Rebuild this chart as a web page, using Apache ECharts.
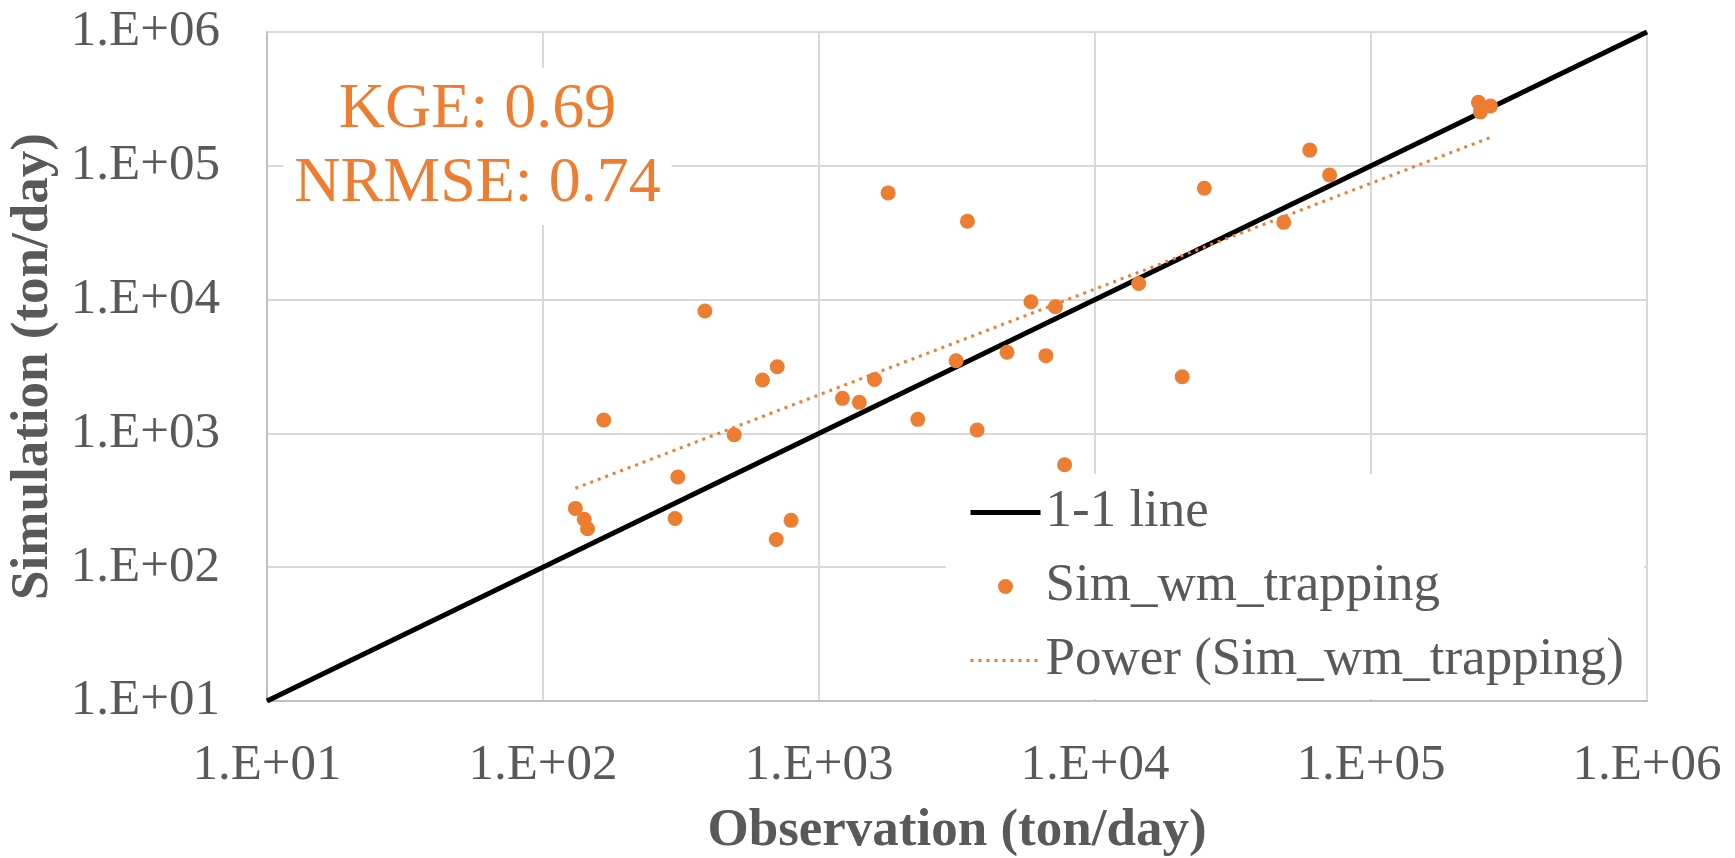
<!DOCTYPE html>
<html>
<head>
<meta charset="utf-8">
<script src="https://cdn.jsdelivr.net/npm/echarts@6/dist/echarts.min.js"></script>
<style>
  html, body { margin: 0; padding: 0; background: #ffffff; }
  #chart { width: 1735px; height: 858px; }
</style>
</head>
<body>
<div id="chart"></div>
<script>
// Observed vs simulated sediment load (ton/day)
const observed = [
  131, 141, 145, 166, 301, 308, 386, 493, 624, 706, 700, 792,
  1216, 1400, 1589, 1780, 2280, 3140, 3450, 3740, 4800, 5860, 6640, 7190,
  7760, 14400, 20700, 24900, 48300, 60000, 70800, 245000, 249000, 271000
];
const simulated = [
  275, 228, 194, 1259, 231, 472, 8220, 977, 2506, 3150, 161, 224,
  1828, 1706, 2530, 62700, 1274, 3490, 38500, 1060, 4040, 9640, 3810, 8850,
  583, 13200, 2650, 67900, 37800, 131000, 85300, 298000, 253000, 280000
];

// 1:1 reference line end points
const identityEnds = [10, 1000000];

// Power trendline end points (observed, simulated)
const trendObs = [131, 271000];
const trendSim = [389, 163000];

const tickLabels = ['1.E+01', '1.E+02', '1.E+03', '1.E+04', '1.E+05', '1.E+06'];
const seriesNames = ['1-1 line', 'Sim_wm_trapping', 'Power (Sim_wm_trapping)'];
const statsLines = ['KGE: 0.69', 'NRMSE: 0.74'];

const ORANGE = '#ED7D31';
const TEXT = '#595959';
const SERIF = '"Liberation Serif", "Times New Roman", serif';
const HIDDEN = 'rgba(0,0,0,0)';

const pairs = (xs, ys) => xs.map((x, i) => [x, ys[i]]);
const tickFormatter = v => tickLabels[Math.round(Math.log10(v)) - 1] || '';

const axisCommon = {
  type: 'log',
  logBase: 10,
  min: 10,
  max: 1000000,
  axisLine: { show: true, lineStyle: { color: '#BFBFBF', width: 2 } },
  axisTick: { show: false },
  minorTick: { show: false },
  splitLine: { show: true, lineStyle: { color: '#D9D9D9', width: 2 } },
  nameLocation: 'middle',
  nameTextStyle: { fontFamily: SERIF, fontSize: 53, fontWeight: 'bold', color: TEXT }
};

const chart = echarts.init(document.getElementById('chart'), null, { renderer: 'canvas' });

chart.setOption({
  animation: false,
  backgroundColor: '#ffffff',
  grid: {
    left: 267, right: 88, top: 32, bottom: 157,
    containLabel: false,
    outerBoundsMode: 'none'
  },
  xAxis: Object.assign({}, axisCommon, {
    name: 'Observation (ton/day)',
    nameGap: 104,
    axisLabel: {
      formatter: tickFormatter, fontFamily: SERIF, fontSize: 51, color: TEXT,
      margin: 39, showMinLabel: true, showMaxLabel: true
    }
  }),
  yAxis: Object.assign({}, axisCommon, {
    name: 'Simulation (ton/day)',
    nameGap: 203,
    axisLabel: {
      formatter: tickFormatter, fontFamily: SERIF, fontSize: 51, color: TEXT,
      margin: 47, showMinLabel: true, showMaxLabel: true
    }
  }),
  legend: {
    orient: 'vertical',
    left: 946,
    top: 474,
    width: 700,
    backgroundColor: '#ffffff',
    padding: [12, 20, 12, 22],
    itemGap: 21,
    itemWidth: 70,
    itemHeight: 15,
    textStyle: { fontFamily: SERIF, fontSize: 53, color: TEXT },
    data: [
      {
        name: seriesNames[0],
        lineStyle: { width: 5, color: '#000000' },
        itemStyle: { color: HIDDEN, borderWidth: 0, opacity: 0 }
      },
      { name: seriesNames[1], icon: 'circle' },
      {
        name: seriesNames[2],
        lineStyle: { width: 3, color: ORANGE, type: [3, 5] },
        itemStyle: { color: HIDDEN, borderWidth: 0, opacity: 0 }
      }
    ]
  },
  graphic: [{
    type: 'text',
    x: 477.5,
    y: 68,
    z: 100,
    style: {
      text: statsLines.join('\n'),
      align: 'center',
      verticalAlign: 'top',
      font: '64px ' + SERIF,
      lineHeight: 74,
      fill: ORANGE,
      backgroundColor: '#ffffff',
      padding: [5, 11, 4, 11]
    }
  }],
  series: [
    {
      name: seriesNames[0],
      type: 'line',
      data: pairs(identityEnds, identityEnds),
      symbol: 'none',
      lineStyle: { color: '#000000', width: 5 },
      itemStyle: { color: '#000000' },
      z: 2
    },
    {
      name: seriesNames[1],
      type: 'scatter',
      data: pairs(observed, simulated),
      symbol: 'circle',
      symbolSize: 15,
      itemStyle: { color: ORANGE, opacity: 1 },
      z: 3
    },
    {
      name: seriesNames[2],
      type: 'line',
      data: pairs(trendObs, trendSim),
      symbol: 'none',
      lineStyle: { color: ORANGE, width: 3, type: [3, 5] },
      itemStyle: { color: ORANGE },
      z: 4
    }
  ]
});
</script>
</body>
</html>
